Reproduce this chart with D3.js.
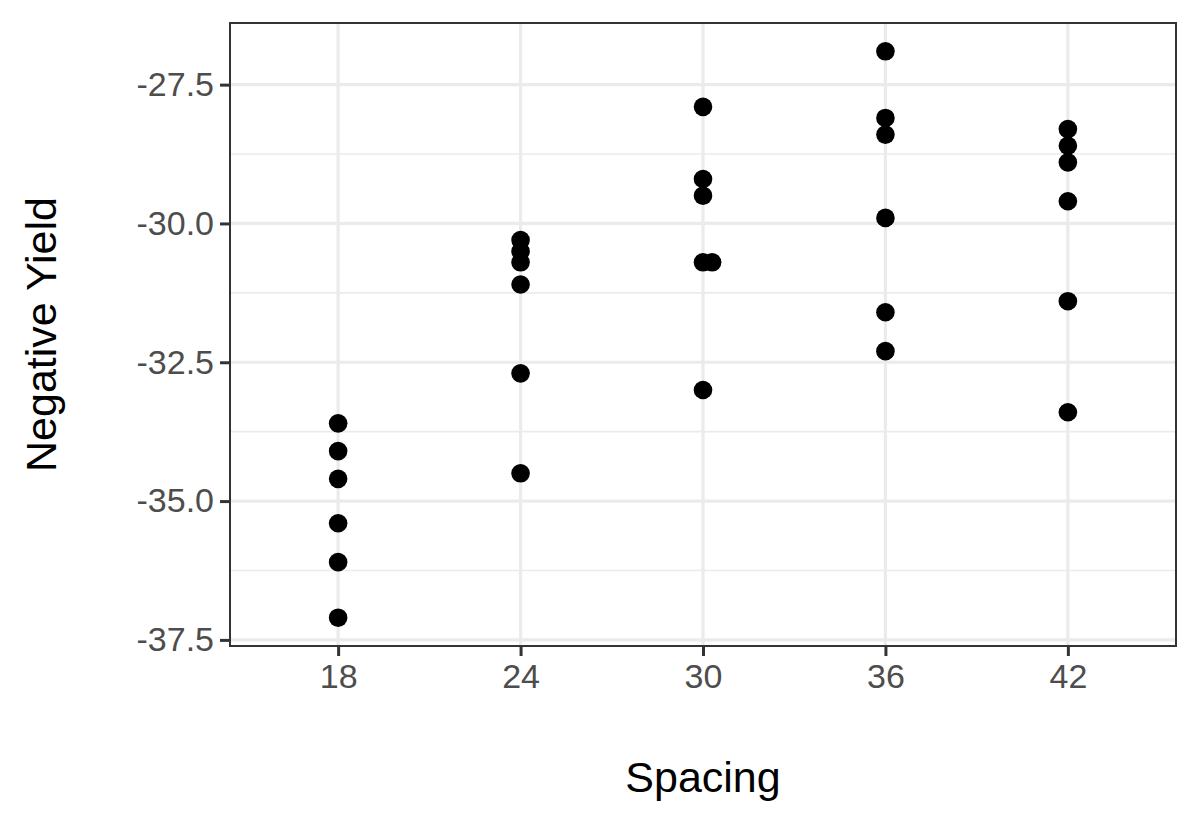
<!DOCTYPE html>
<html>
<head>
<meta charset="utf-8">
<script src="https://cdn.jsdelivr.net/npm/d3@7"></script>
<style>
  html, body { margin: 0; padding: 0; background: #ffffff; }
  svg { display: block; }
  text { font-family: "Liberation Sans", Arial, sans-serif; }
</style>
</head>
<body>
<script>
// ---- data ----
const spacing = [18,18,18,18,18,18, 24,24,24,24,24,24, 30,30,30,30,30.3,30, 36,36,36,36,36,36, 42,42,42,42,42,42];
const negYield = [-33.6,-34.1,-34.6,-35.4,-36.1,-37.1,
                  -30.3,-30.5,-30.7,-31.1,-32.7,-34.5,
                  -27.9,-29.2,-29.5,-30.7,-30.7,-33.0,
                  -26.9,-28.1,-28.4,-29.9,-31.6,-32.3,
                  -28.3,-28.6,-28.9,-29.6,-31.4,-33.4];
const xTicks = [18, 24, 30, 36, 42];
const yTicks = [-37.5, -35.0, -32.5, -30.0, -27.5];
const yMinorTicks = [-36.25, -33.75, -31.25, -28.75];
const xLabel = "Spacing";
const yLabel = "Negative Yield";

const W = 1200, H = 825;
const panel = {left: 230, right: 1176, top: 23, bottom: 646};

const svg = d3.select("body").append("svg").attr("width", W).attr("height", H);
svg.append("rect").attr("width", W).attr("height", H).attr("fill", "#ffffff");

const x = d3.scaleLinear().domain([14.444, 45.556]).range([panel.left, panel.right]);
const y = d3.scaleLinear().domain([-37.61, -26.39]).range([panel.bottom, panel.top]);

const g = svg.append("g");
g.append("rect").attr("x", panel.left).attr("y", panel.top)
  .attr("width", panel.right - panel.left).attr("height", panel.bottom - panel.top)
  .attr("fill", "#ffffff");

// minor grid (y)
g.selectAll("line.ymin").data(yMinorTicks).join("line")
  .attr("x1", panel.left).attr("x2", panel.right)
  .attr("y1", d => y(d)).attr("y2", d => y(d))
  .attr("stroke", "#EBEBEB").attr("stroke-width", 1.6);
// major grid
g.selectAll("line.ymaj").data(yTicks).join("line")
  .attr("x1", panel.left).attr("x2", panel.right)
  .attr("y1", d => y(d)).attr("y2", d => y(d))
  .attr("stroke", "#EBEBEB").attr("stroke-width", 3.2);
g.selectAll("line.xmaj").data(xTicks).join("line")
  .attr("y1", panel.top).attr("y2", panel.bottom)
  .attr("x1", d => x(d)).attr("x2", d => x(d))
  .attr("stroke", "#EBEBEB").attr("stroke-width", 3.2);

// points
g.selectAll("circle").data(spacing.map((s, i) => [s, negYield[i]])).join("circle")
  .attr("cx", d => x(d[0])).attr("cy", d => y(d[1]))
  .attr("r", 9.3).attr("fill", "#000000");

// panel border
g.append("rect").attr("x", panel.left).attr("y", panel.top)
  .attr("width", panel.right - panel.left).attr("height", panel.bottom - panel.top)
  .attr("fill", "none").attr("stroke", "#333333").attr("stroke-width", 2);

// axes
const fmtY = d => d.toFixed(1); // plain hyphen-minus, as in the reference
const xAxis = d3.axisBottom(x).tickValues(xTicks).tickSize(10).tickPadding(8).tickFormat(d => String(d));
const yAxis = d3.axisLeft(y).tickValues(yTicks).tickSize(10).tickPadding(6).tickFormat(fmtY);

const gx = svg.append("g").attr("transform", `translate(0,${panel.bottom})`).call(xAxis);
const gy = svg.append("g").attr("transform", `translate(${panel.left},0)`).call(yAxis);
[gx, gy].forEach(a => {
  a.select(".domain").remove();
  a.selectAll(".tick line").attr("stroke", "#333333").attr("stroke-width", 3);
  a.selectAll(".tick text").attr("fill", "#4D4D4D").attr("font-size", 34)
    .attr("font-family", "'Liberation Sans', Arial, sans-serif");
});
gx.selectAll(".tick text").attr("dy", "0.71em");

// axis titles
svg.append("text").attr("x", (panel.left + panel.right) / 2).attr("y", 792)
  .attr("text-anchor", "middle").attr("font-size", 43).attr("fill", "#000000").text(xLabel);
svg.append("text").attr("transform", `translate(56,${(panel.top + panel.bottom) / 2}) rotate(-90)`)
  .attr("text-anchor", "middle").attr("font-size", 43).attr("fill", "#000000").text(yLabel);
</script>
</body>
</html>
